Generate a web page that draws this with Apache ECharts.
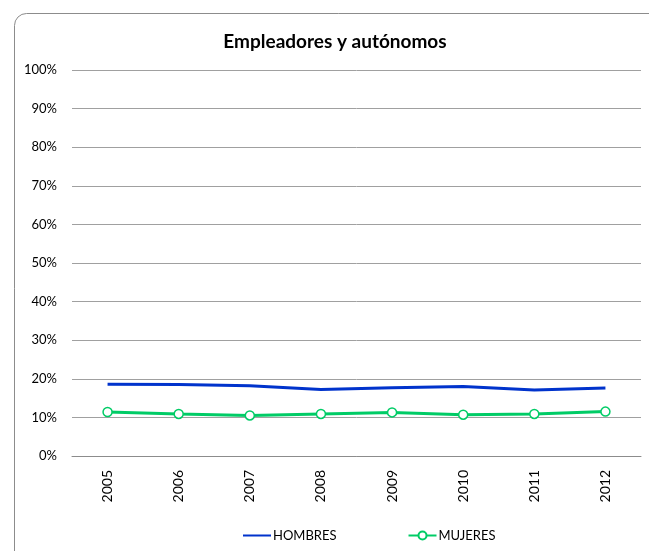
<!DOCTYPE html>
<html>
<head>
<meta charset="utf-8">
<script src="https://cdn.jsdelivr.net/npm/echarts@6/dist/echarts.min.js"></script>
<style>html,body{margin:0;padding:0;background:#fff;}#c{width:649px;height:551px;}</style>
</head>
<body>
<div id="c"></div>
<script>
var years = ['2005','2006','2007','2008','2009','2010','2011','2012'];
var hombres = [18.6, 18.5, 18.2, 17.2, 17.7, 18.0, 17.1, 17.6];
var mujeres = [11.4, 10.9, 10.5, 10.9, 11.3, 10.7, 10.9, 11.5];
var chartTitle = 'Empleadores y autónomos';
var seriesNames = ['HOMBRES', 'MUJERES'];

var chart = echarts.init(document.getElementById('c'), null, {renderer: 'canvas'});
var font = 'Lato, "Open Sans", sans-serif';
chart.setOption({
  animation: false,
  backgroundColor: '#fff',
  graphic: [{
    type: 'rect', left: 12, top: 11, silent: true,
    shape: {width: 680, height: 560, r: 12},
    style: {fill: 'none', stroke: '#8c8c8c', lineWidth: 1}
  }],
  title: {
    text: chartTitle, left: 330, textAlign: 'center', top: 27,
    textStyle: {fontFamily: font, fontSize: 19, fontWeight: 'bold', color: '#000'}
  },
  legend: {
    left: 242, top: 529, padding: 0, itemWidth: 28, itemHeight: 10, itemGap: 71,
    textStyle: {fontFamily: font, fontSize: 13, color: '#000', padding: [0,0,0,-3]},
    data: [{name: seriesNames[0], itemStyle: {opacity: 0}}, {name: seriesNames[1]}]
  },
  grid: {left: 72, right: 8, top: 70, bottom: 95, containLabel: false},
  xAxis: {
    type: 'category', data: years, boundaryGap: true,
    axisLine: {lineStyle: {color: '#8c8c8c'}},
    axisTick: {show: false},
    axisLabel: {rotate: 90, margin: 14, fontFamily: font, fontSize: 14, color: '#000'}
  },
  yAxis: {
    type: 'value', min: 0, max: 100, interval: 10,
    axisLine: {show: false}, axisTick: {show: false},
    axisLabel: {formatter: '{value}%', margin: 15, fontFamily: font, fontSize: 13, color: '#000'},
    splitLine: {lineStyle: {color: '#a0a0a0', width: 1}}
  },
  series: [{
    name: seriesNames[0], type: 'line', data: hombres,
    symbol: 'none', lineStyle: {color: '#0033CC', width: 3}, itemStyle: {color: '#0033CC'}
  }, {
    name: seriesNames[1], type: 'line', data: mujeres,
    symbol: 'circle', symbolSize: 9, showAllSymbol: true,
    lineStyle: {color: '#00CC66', width: 3},
    itemStyle: {color: '#fff', borderColor: '#00CC66', borderWidth: 1.5}
  }]
});
</script>
</body>
</html>
